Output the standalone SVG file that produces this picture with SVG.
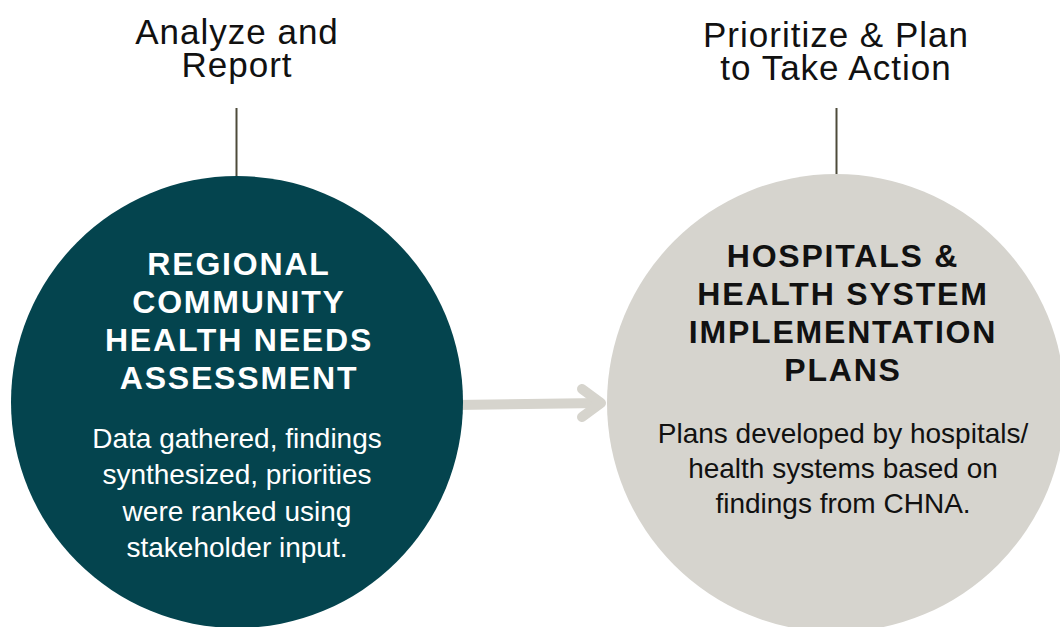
<svg xmlns="http://www.w3.org/2000/svg" width="1060" height="627" viewBox="0 0 1060 627">
  <style>
    .stage { font-family: "Liberation Sans", Arial, sans-serif; font-size: 35px; fill: #111111; text-anchor: middle; letter-spacing: 1px; }
    .title { font-family: "Liberation Sans", Arial, sans-serif; font-size: 32px; font-weight: bold; text-anchor: middle; letter-spacing: 1.8px; }
    .body { font-family: "Liberation Sans", Arial, sans-serif; font-size: 28px; text-anchor: middle; }
    .light { fill: #ffffff; }
    .dark { fill: #111111; }
    .stem { stroke: #4d4b3a; stroke-width: 2; }
    .flow { stroke: #d6d4cd; stroke-width: 10; fill: none; stroke-linecap: round; stroke-linejoin: round; }
  </style>
  <rect width="1060" height="627" fill="#ffffff"/>

  <g id="connectors">
    <line class="stem" x1="236.5" y1="108" x2="236.5" y2="178"/>
    <line class="stem" x1="836.5" y1="108" x2="836.5" y2="176"/>
    <path class="flow" d="M 455 405 L 600 403"/>
    <path class="flow" d="M 582 389 L 601 403 L 582 417"/>
  </g>

  <g id="stage-analyze">
    <text class="stage" x="237" y="44">Analyze and</text>
    <text class="stage" x="237" y="77">Report</text>
  </g>

  <g id="stage-prioritize">
    <text class="stage" x="836" y="47">Prioritize &amp; Plan</text>
    <text class="stage" x="836" y="80">to Take Action</text>
  </g>

  <g id="node-chna">
    <circle cx="237" cy="402" r="226" fill="#04444e"/>
    <text class="title light" x="239" y="275">REGIONAL</text>
    <text class="title light" x="239" y="313">COMMUNITY</text>
    <text class="title light" x="239" y="351">HEALTH NEEDS</text>
    <text class="title light" x="239" y="389">ASSESSMENT</text>
    <text class="body light" x="237" y="448">Data gathered, findings</text>
    <text class="body light" x="237" y="484">synthesized, priorities</text>
    <text class="body light" x="237" y="521">were ranked using</text>
    <text class="body light" x="237" y="557">stakeholder input.</text>
  </g>

  <g id="node-plans">
    <circle cx="836" cy="403" r="229" fill="#d6d4ce"/>
    <text class="title dark" x="843" y="267">HOSPITALS &amp;</text>
    <text class="title dark" x="843" y="305">HEALTH SYSTEM</text>
    <text class="title dark" x="843" y="343">IMPLEMENTATION</text>
    <text class="title dark" x="843" y="381">PLANS</text>
    <text class="body dark" x="843" y="443">Plans developed by hospitals/</text>
    <text class="body dark" x="843" y="478">health systems based on</text>
    <text class="body dark" x="843" y="513">findings from CHNA.</text>
  </g>
</svg>
